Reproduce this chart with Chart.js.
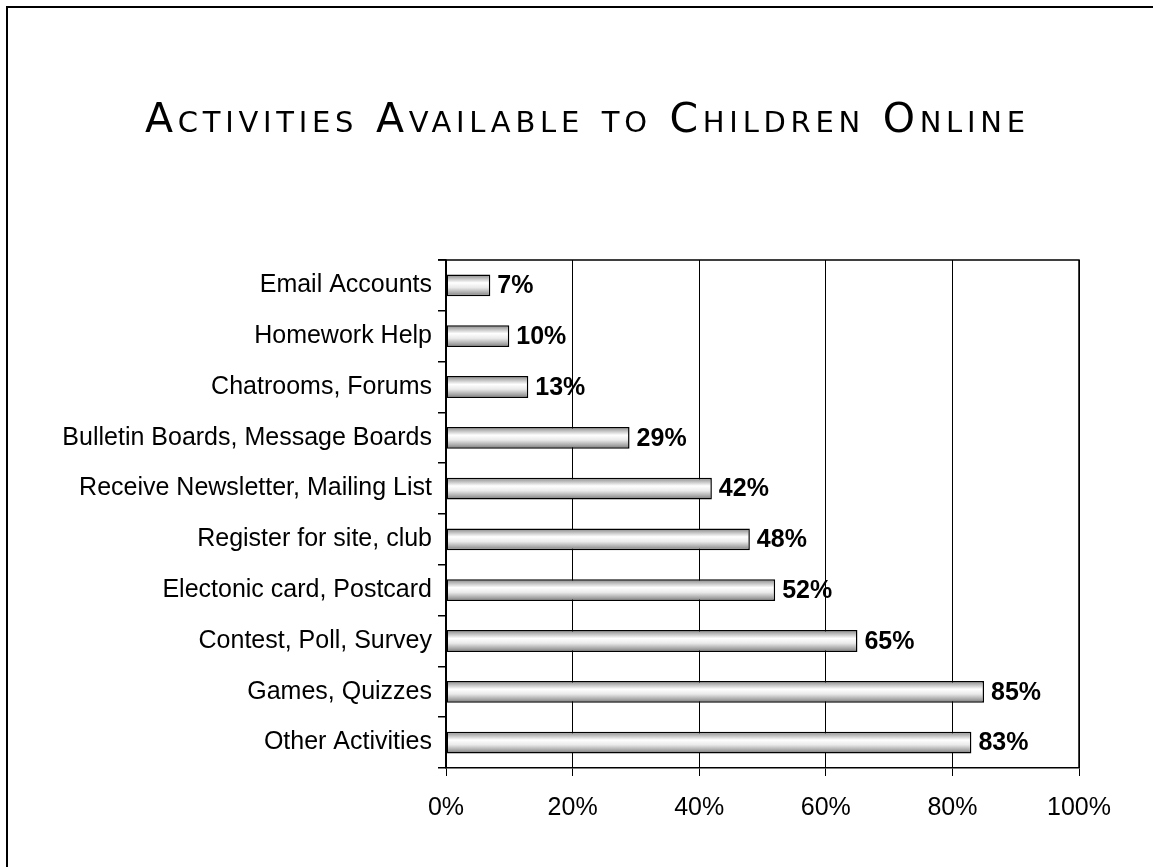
<!DOCTYPE html>
<html>
<head>
<meta charset="utf-8">
<script src="https://cdn.jsdelivr.net/npm/chart.js@4"></script>
<style>
  html, body { margin: 0; padding: 0; background: #fff; }
  #wrap { width: 1153px; height: 867px; }
</style>
</head>
<body>
<div id="wrap"><canvas id="chartActivities" width="1153" height="867"></canvas></div>
<script>
const chartTitle = 'Activities Available to Children Online';
const activities = [
  'Email Accounts', 'Homework Help', 'Chatrooms, Forums',
  'Bulletin Boards, Message Boards', 'Receive Newsletter, Mailing List',
  'Register for site, club', 'Electonic card, Postcard',
  'Contest, Poll, Survey', 'Games, Quizzes', 'Other Activities'
];
const percentages = [7, 10, 13, 29, 42, 48, 52, 65, 85, 83];
const xTicks = [0, 20, 40, 60, 80, 100];

const barPct = 0.43;
const labelFont = '"Liberation Sans", Arial, sans-serif';

// cylinder look, shaded top to bottom on each bar
function barGradient(context) {
  if (context.type !== 'data') return '#cccccc';
  const chart = context.chart;
  const area = chart.chartArea;
  if (!area || !chart.scales.y) return '#cccccc';
  const yc = chart.scales.y.getPixelForValue(context.dataIndex);
  const h = (area.bottom - area.top) / activities.length * barPct;
  const g = chart.ctx.createLinearGradient(0, yc - h / 2, 0, yc + h / 2);
  g.addColorStop(0, '#858585');
  g.addColorStop(0.15, '#b5b5b5');
  g.addColorStop(0.38, '#ffffff');
  g.addColorStop(0.6, '#eaeaea');
  g.addColorStop(0.85, '#a5a5a5');
  g.addColorStop(1, '#767676');
  return g;
}

const framePlugin = {
  id: 'frame',
  afterDraw(chart) {
    const ctx = chart.ctx;
    const a = chart.chartArea;
    ctx.save();
    // slide border, top and left only
    ctx.strokeStyle = '#000';
    ctx.lineWidth = 2;
    ctx.beginPath();
    ctx.moveTo(7, 867);
    ctx.lineTo(7, 7);
    ctx.lineTo(1153, 7);
    ctx.stroke();
    // plot frame top + right
    ctx.lineWidth = 1.5;
    ctx.beginPath();
    ctx.moveTo(a.left - 8, a.top);
    ctx.lineTo(a.right, a.top);
    ctx.lineTo(a.right, a.bottom);
    ctx.stroke();

    // title in small caps
    ctx.font = 'small-caps 400 41px "DejaVu Sans", sans-serif';
    ctx.fillStyle = '#000';
    ctx.textAlign = 'left';
    ctx.textBaseline = 'alphabetic';
    ctx.letterSpacing = '0px';
    const w0 = ctx.measureText(chartTitle).width;
    const ls = (880 - w0) / (chartTitle.length - 1);
    ctx.letterSpacing = ls + 'px';
    ctx.fillText(chartTitle, 145, 132);
    ctx.restore();
  },
  afterDatasetsDraw(chart) {
    const ctx = chart.ctx;
    const meta = chart.getDatasetMeta(0);
    ctx.save();
    ctx.font = 'bold 25px ' + labelFont;
    ctx.fillStyle = '#000';
    ctx.textAlign = 'left';
    ctx.textBaseline = 'middle';
    meta.data.forEach(function (bar, i) {
      ctx.fillText(percentages[i] + '%', bar.x + 7, bar.y + 1);
    });
    ctx.restore();
  }
};

const data = {
  labels: activities,
  datasets: [{
    data: percentages,
    backgroundColor: barGradient,
    borderColor: '#000',
    borderWidth: 1.5,
    borderSkipped: false,
    barPercentage: barPct,
    categoryPercentage: 1
  }]
};

const config = {
  type: 'bar',
  data: data,
  options: {
    indexAxis: 'y',
    responsive: false,
    animation: false,
    devicePixelRatio: 1,
    layout: {
      padding: { top: 260, right: 74, bottom: 0, left: 0 }
    },
    plugins: {
      legend: { display: false },
      tooltip: { enabled: false },
      title: { display: false }
    },
    scales: {
      x: {
        min: 0,
        max: 100,
        afterBuildTicks: function (scale) {
          scale.ticks = xTicks.map(function (v) { return { value: v }; });
        },
        afterFit: function (scale) { scale.height = 99; },
        ticks: {
          color: '#000',
          padding: 17,
          font: { size: 25, family: labelFont },
          callback: function (v) { return v + '%'; }
        },
        grid: { color: '#000', lineWidth: 1, tickLength: 8 },
        border: { color: '#000', width: 1.5 }
      },
      y: {
        afterFit: function (scale) { scale.width = 446; },
        ticks: {
          color: '#000',
          padding: 6,
          font: { size: 25, family: labelFont }
        },
        grid: {
          drawOnChartArea: false,
          offset: true,
          color: '#000',
          lineWidth: 1.5,
          tickLength: 8
        },
        border: { color: '#000', width: 1.5 }
      }
    }
  },
  plugins: [framePlugin]
};

const chartActivities = new Chart(
  document.getElementById('chartActivities'),
  config
);
</script>
</body>
</html>
